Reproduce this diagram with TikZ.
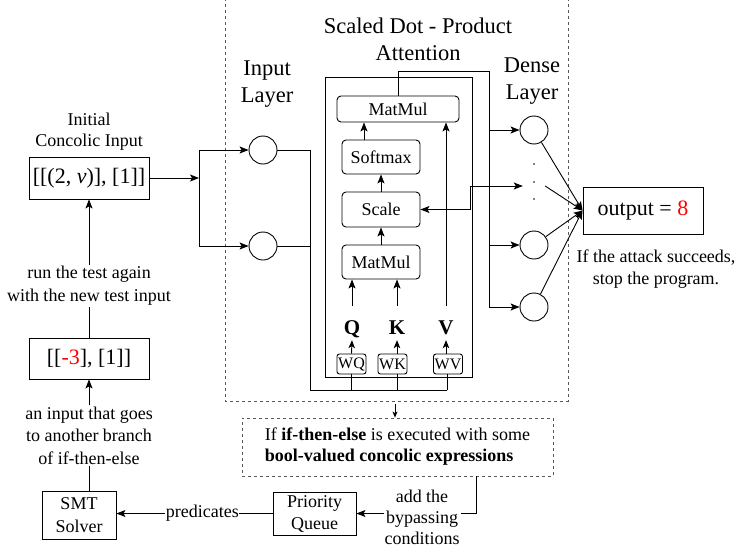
\documentclass[tikz,border=0pt]{standalone}
\usepackage{fontspec}
\setmainfont{Liberation Serif}
\usetikzlibrary{arrows.meta,calc}
\begin{document}
\begin{tikzpicture}[x=1pt,y=-1pt,
  ln/.style={line width=0.9pt},
  arr/.style={ln,-{Stealth[length=9pt,width=7pt,inset=2pt]}},
  marr/.style={ln,-{Stealth[length=8pt,width=6.5pt,inset=2pt]}},
  sarr/.style={ln,-{Stealth[length=6pt,width=5pt,inset=1.5pt]}},
  plainbox/.style={draw,line width=0.9pt,rectangle,inner sep=0pt},
  rbox/.style={draw,line width=0.9pt,rounded corners=4pt,inner sep=0pt,font=\fontsize{18}{21}\selectfont},
  wbox/.style={draw,line width=0.9pt,rounded corners=2.5pt,inner sep=0pt,minimum width=29pt,minimum height=20pt,font=\fontsize{16}{17}\selectfont},
  neuron/.style={draw,line width=0.9pt,circle,minimum size=28pt,inner sep=0pt},
  tx/.style={font=\fontsize{18}{22}\selectfont,align=center,inner sep=1pt},
  big/.style={font=\fontsize{22.5}{27}\selectfont,align=center,inner sep=1pt},
  qkv/.style={font=\fontsize{21}{24}\selectfont\bfseries,inner sep=0pt,text height=28pt,text depth=6pt,anchor=base},
  dsh/.style={line width=0.8pt,draw=black!65,dash pattern=on 3pt off 3pt}
]
\useasboundingbox (0,0) rectangle (738,554);

% big dashed region
\draw[dsh] (225,-2) -- (225,401) -- (568,401) -- (568,-2);

% left column
\node[tx] (initlbl) at (89,132) {Initial\\[-1pt]Concolic Input};
\node[plainbox,minimum width=120pt,minimum height=42pt,font=\fontsize{22}{26}\selectfont] (inbox) at (89,178) {[[(2, \textit{v})], [1]]};
\node[tx] (runlbl) at (89,286) {run the test again\\[1pt]with the new test input};
\node[plainbox,minimum width=120pt,minimum height=41pt,font=\fontsize{22}{26}\selectfont] (newbox) at (89,358.5) {[[\textcolor{red}{-3}], [1]]};
\node[tx] (anlbl) at (89,435.5) {an input that goes\\[0.5pt]to another branch\\[0.5pt]of if-then-else};
\node[plainbox,minimum width=74pt,minimum height=48pt,font=\fontsize{18}{23}\selectfont,align=center] (smt) at (79,515) {SMT\\Solver};

\draw[arr] (runlbl.north) -- (inbox.south);
\draw[ln] (newbox.north) -- (runlbl.south);
\draw[arr] (anlbl.north) -- (newbox.south);
\draw[ln] (anlbl.south) -- (anlbl.south |- smt.north);

% input layer
\node[big] (inlbl) at (267,84) {Input\\Layer};
\node[neuron] (in1) at (263,150) {};
\node[neuron] (in2) at (263,246) {};
\coordinate (split) at (199,178);
\draw[arr] (inbox.east) -- (split);
\draw[arr] (split) |- (in1.west);
\draw[arr] (split) |- (in2.west);

% attention block
\node[big] (attlbl) at (418,39) {Scaled Dot - Product\\Attention};
\node[draw,line width=0.9pt,minimum width=147pt,minimum height=300pt,inner sep=0pt] (attn) at (398.5,227) {};
\node[rbox,minimum width=122pt,minimum height=26pt] (mm2) at (398,109) {MatMul};
\node[rbox,minimum width=78pt,minimum height=34pt] (sm) at (381,157) {Softmax};
\node[rbox,minimum width=78pt,minimum height=35pt] (sc) at (381,209.5) {Scale};
\node[rbox,minimum width=78pt,minimum height=34pt] (mm1) at (381,262) {MatMul};
\node[qkv] (q) at (352,334) {Q};
\node[qkv] (k) at (397,334) {K};
\node[qkv] (v) at (446,334) {V};
\node[wbox] (wq) at (351.5,364) {WQ};
\node[wbox] (wk) at (392.5,364) {WK};
\node[wbox] (wv) at (448,364) {WV};

\draw[arr] (mm1.north) -- (sc.south);
\draw[arr] (sc.north) -- (sm.south);
\coordinate (smo) at (364,140);
\draw[arr] (smo) -- (smo |- mm2.south);
\draw[arr] (q.north) -- (q.north |- mm1.south);
\draw[arr] (k.north) -- (k.north |- mm1.south);
\draw[arr] (v.north) -- (v.north |- mm2.south);
\draw[marr] (wq.north) -- (q.south);
\draw[marr] (wk.north -| k.south) -- (k.south);
\draw[marr] (wv.north -| v.south) -- (v.south);

% bus from input layer to W boxes
\coordinate (busL) at (310,390);
\coordinate (busR) at (447,390);
\draw[ln] (in1.east) -| (busL) -- (busR);
\draw[ln] (in2.east) -- (in2.east -| busL);
\draw[ln] (wq.south) -- (wq.south |- busL);
\draw[ln] (wk.south -| k.south) -- (k.south |- busL);
\draw[ln] (busR) -- (busR |- wv.south);

% dense layer
\node[big] (dlbl) at (532,81) {Dense\\Layer};
\node[neuron] (d1) at (534,130) {};
\node[neuron] (d3) at (534,245) {};
\node[neuron] (d4) at (534,307) {};
\node[inner sep=0pt,minimum width=22pt,minimum height=2pt] (dots) at (534,186) {};
\fill (534,164) circle (0.8pt) (534,182) circle (0.8pt) (534,199) circle (0.8pt);

\coordinate (dtop) at (489,71);
\coordinate (dbot) at (489,307);
\coordinate (sfeed) at (489,186);
\draw[ln] (mm2.north) |- (dtop) -- (dbot);
\draw[arr] (d1.west -| dtop) -- (d1.west);
\draw[arr] (sfeed) -- (dots.west);
\draw[arr] (d3.west -| dtop) -- (d3.west);
\draw[arr] (dbot) -- (d4.west);
\draw[arr] (sfeed) -- ++(-19,0) |- (sc.east);

% output
\node[plainbox,minimum width=120pt,minimum height=47pt,font=\fontsize{22}{26}\selectfont] (out) at (643,210.5) {output = \textcolor{red}{8}};
\draw[arr] (d1) -- (out.west);
\draw[arr] (dots.east) -- (out.west);
\draw[arr] (d3) -- (out.west);
\draw[arr] (d4) -- (out.west);
\node[tx] (succ) at (656,269) {If the attack succeeds,\\stop the program.};

% condition box
\coordinate (bigbot) at (395,404);
\node[dsh,draw,minimum width=311pt,minimum height=58pt,align=left,font=\fontsize{18}{21}\selectfont,inner sep=0pt] (cond) at (397.5,447) {If \textbf{if-then-else} is executed with some\\\textbf{bool-valued concolic expressions}};
\draw[sarr,line width=0.8pt] (bigbot) -- (bigbot |- cond.north);

\node[plainbox,minimum width=83pt,minimum height=43pt,font=\fontsize{18}{22}\selectfont,align=center] (pq) at (314.5,513.5) {Priority\\Queue};
\draw[arr] ([xshift=-77pt]cond.south east) |- (pq.east);
\node[tx,fill=white,font=\fontsize{18}{21}\selectfont] (addlbl) at (422,517) {add the\\bypassing\\conditions};
\draw[arr] (pq.west) -- node[tx,fill=white,pos=0.45,inner sep=0.5pt] (predlbl) {predicates} (pq.west -| smt.east);
\end{tikzpicture}
\end{document}
